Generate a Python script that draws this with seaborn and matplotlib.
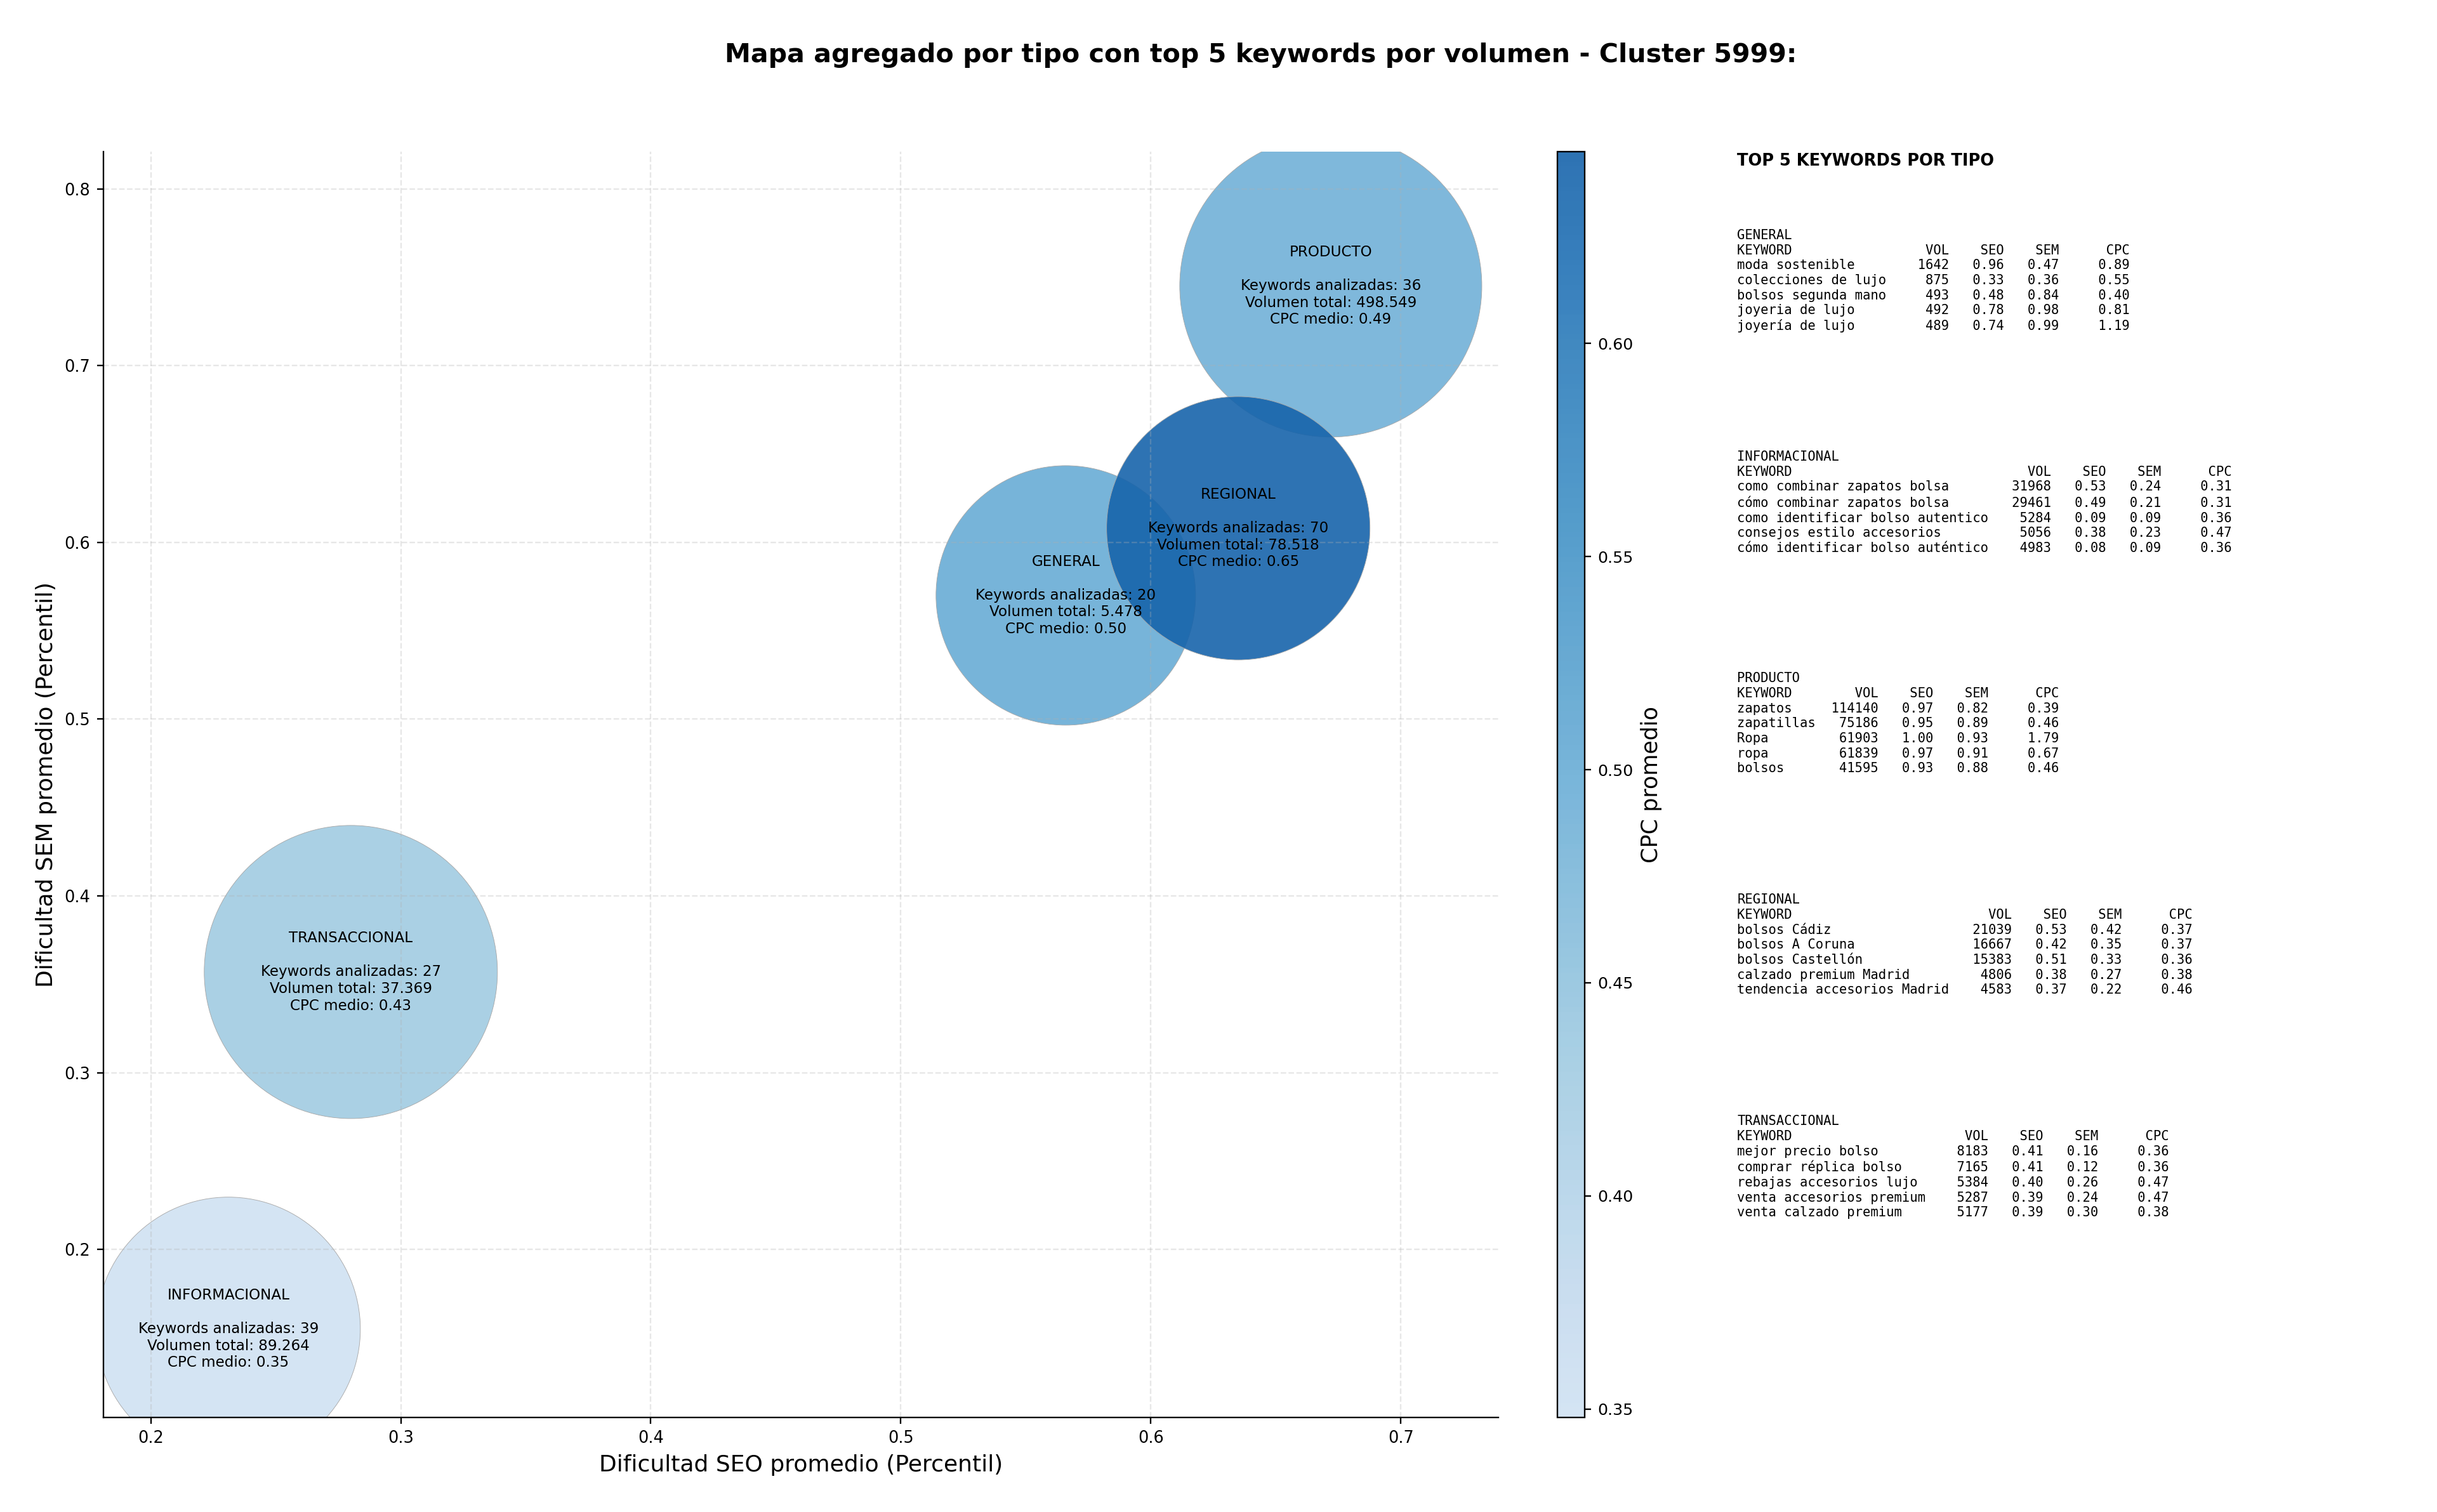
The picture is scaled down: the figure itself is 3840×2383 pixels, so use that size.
import numpy as np
import pandas as pd
import matplotlib
matplotlib.use("Agg")
import matplotlib.pyplot as plt
from matplotlib.colors import ListedColormap, Normalize
from matplotlib.cm import ScalarMappable
import seaborn as sns

# datos agregados por tipo de keyword
tipos = ["GENERAL", "INFORMACIONAL", "PRODUCTO", "REGIONAL", "TRANSACCIONAL"]
seo_medio = [0.566, 0.231, 0.672, 0.635, 0.280]
sem_medio = [0.570, 0.155, 0.745, 0.608, 0.357]
n_keywords = [20, 39, 36, 70, 27]
volumen_total = [5478, 89264, 498549, 78518, 37369]
cpc_medio = [0.50, 0.348, 0.49, 0.645, 0.43]
area_burbuja = [19665, 20346, 26635, 20248, 25090]

# top 5 keywords por tipo: (keyword, vol, seo, sem, cpc)
top_general = [
    ("moda sostenible", 1642, 0.96, 0.47, 0.89),
    ("colecciones de lujo", 875, 0.33, 0.36, 0.55),
    ("bolsos segunda mano", 493, 0.48, 0.84, 0.40),
    ("joyeria de lujo", 492, 0.78, 0.98, 0.81),
    ("joyería de lujo", 489, 0.74, 0.99, 1.19),
]
top_informacional = [
    ("como combinar zapatos bolsa", 31968, 0.53, 0.24, 0.31),
    ("cómo combinar zapatos bolsa", 29461, 0.49, 0.21, 0.31),
    ("como identificar bolso autentico", 5284, 0.09, 0.09, 0.36),
    ("consejos estilo accesorios", 5056, 0.38, 0.23, 0.47),
    ("cómo identificar bolso auténtico", 4983, 0.08, 0.09, 0.36),
]
top_producto = [
    ("zapatos", 114140, 0.97, 0.82, 0.39),
    ("zapatillas", 75186, 0.95, 0.89, 0.46),
    ("Ropa", 61903, 1.00, 0.93, 1.79),
    ("ropa", 61839, 0.97, 0.91, 0.67),
    ("bolsos", 41595, 0.93, 0.88, 0.46),
]
top_regional = [
    ("bolsos Cádiz", 21039, 0.53, 0.42, 0.37),
    ("bolsos A Coruna", 16667, 0.42, 0.35, 0.37),
    ("bolsos Castellón", 15383, 0.51, 0.33, 0.36),
    ("calzado premium Madrid", 4806, 0.38, 0.27, 0.38),
    ("tendencia accesorios Madrid", 4583, 0.37, 0.22, 0.46),
]
top_transaccional = [
    ("mejor precio bolso", 8183, 0.41, 0.16, 0.36),
    ("comprar réplica bolso", 7165, 0.41, 0.12, 0.36),
    ("rebajas accesorios lujo", 5384, 0.40, 0.26, 0.47),
    ("venta accesorios premium", 5287, 0.39, 0.24, 0.47),
    ("venta calzado premium", 5177, 0.39, 0.30, 0.38),
]
tops = [top_general, top_informacional, top_producto, top_regional, top_transaccional]

df = pd.DataFrame({
    "tipo": tipos,
    "seo": seo_medio,
    "sem": sem_medio,
    "n": n_keywords,
    "volumen": volumen_total,
    "cpc": cpc_medio,
    "area": area_burbuja,
})


def fmt_miles(v):
    return f"{v:,}".replace(",", ".")


def tabla_tipo(tipo, filas):
    w = max(len(f[0]) for f in filas)
    lineas = [tipo, f"{'KEYWORD':<{w}}{'VOL':>8}{'SEO':>7}{'SEM':>7}{'CPC':>9}"]
    for kw, vol, seo, sem, cpc in filas:
        lineas.append(f"{kw:<{w}}{vol:>8}{seo:>7.2f}{sem:>7.2f}{cpc:>9.2f}")
    return "\n".join(lineas)


DPI = 210
fig = plt.figure(figsize=(3840 / DPI, 2383 / DPI), dpi=DPI)
ax = fig.add_axes([0.0424, 0.0625, 0.5724, 0.8372])
cax = fig.add_axes([0.639, 0.0625, 0.0112, 0.8372])

# Blues recortado con transparencia
base = plt.get_cmap("Blues")
cols = base(np.linspace(0.2, 0.8, 256))
cols[:, 3] = 0.9
cmap = ListedColormap(cols)
norm = Normalize(df["cpc"].min(), df["cpc"].max())

sns.scatterplot(data=df, x="seo", y="sem", hue="cpc", palette=cmap, hue_norm=norm,
                s=df["area"].values, edgecolor="#a8a8a8", linewidth=0.3,
                legend=False, ax=ax)

for _, r in df.iterrows():
    etiqueta = (f"{r['tipo']}\n\nKeywords analizadas: {r['n']}\n"
                f"Volumen total: {fmt_miles(int(r['volumen']))}\nCPC medio: {r['cpc']:.2f}")
    ax.text(r["seo"], r["sem"], etiqueta, ha="center", va="center", fontsize=7.9)

ax.set_xlim(0.181, 0.739)
ax.set_ylim(0.105, 0.821)
ax.grid(True, linestyle="--", alpha=0.3)
ax.tick_params(labelsize=8.8)
ax.set_xlabel("Dificultad SEO promedio (Percentil)", fontsize=12.4)
ax.set_ylabel("Dificultad SEM promedio (Percentil)", fontsize=12.4)
sns.despine(ax=ax)

sm = ScalarMappable(norm=norm, cmap=cmap)
cbar = fig.colorbar(sm, cax=cax)
cbar.set_label("CPC promedio", fontsize=12)
cbar.ax.tick_params(labelsize=8.7)

fig.text(0.5174, 0.959, "Mapa agregado por tipo con top 5 keywords por volumen - Cluster 5999:",
         ha="center", va="baseline", fontsize=14.1, fontweight="bold")

fig.text(0.7128, 0.8989, "TOP 5 KEYWORDS POR TIPO", fontsize=8.8, fontweight="bold", va="top")
for i, (tipo, filas) in enumerate(zip(tipos, tops)):
    fig.text(0.7128, 0.8485 - i * 0.1465, tabla_tipo(tipo, filas),
             family="DejaVu Sans Mono", fontsize=7.05, linespacing=1.23, va="top")

fig.savefig("out.png", dpi=DPI)
